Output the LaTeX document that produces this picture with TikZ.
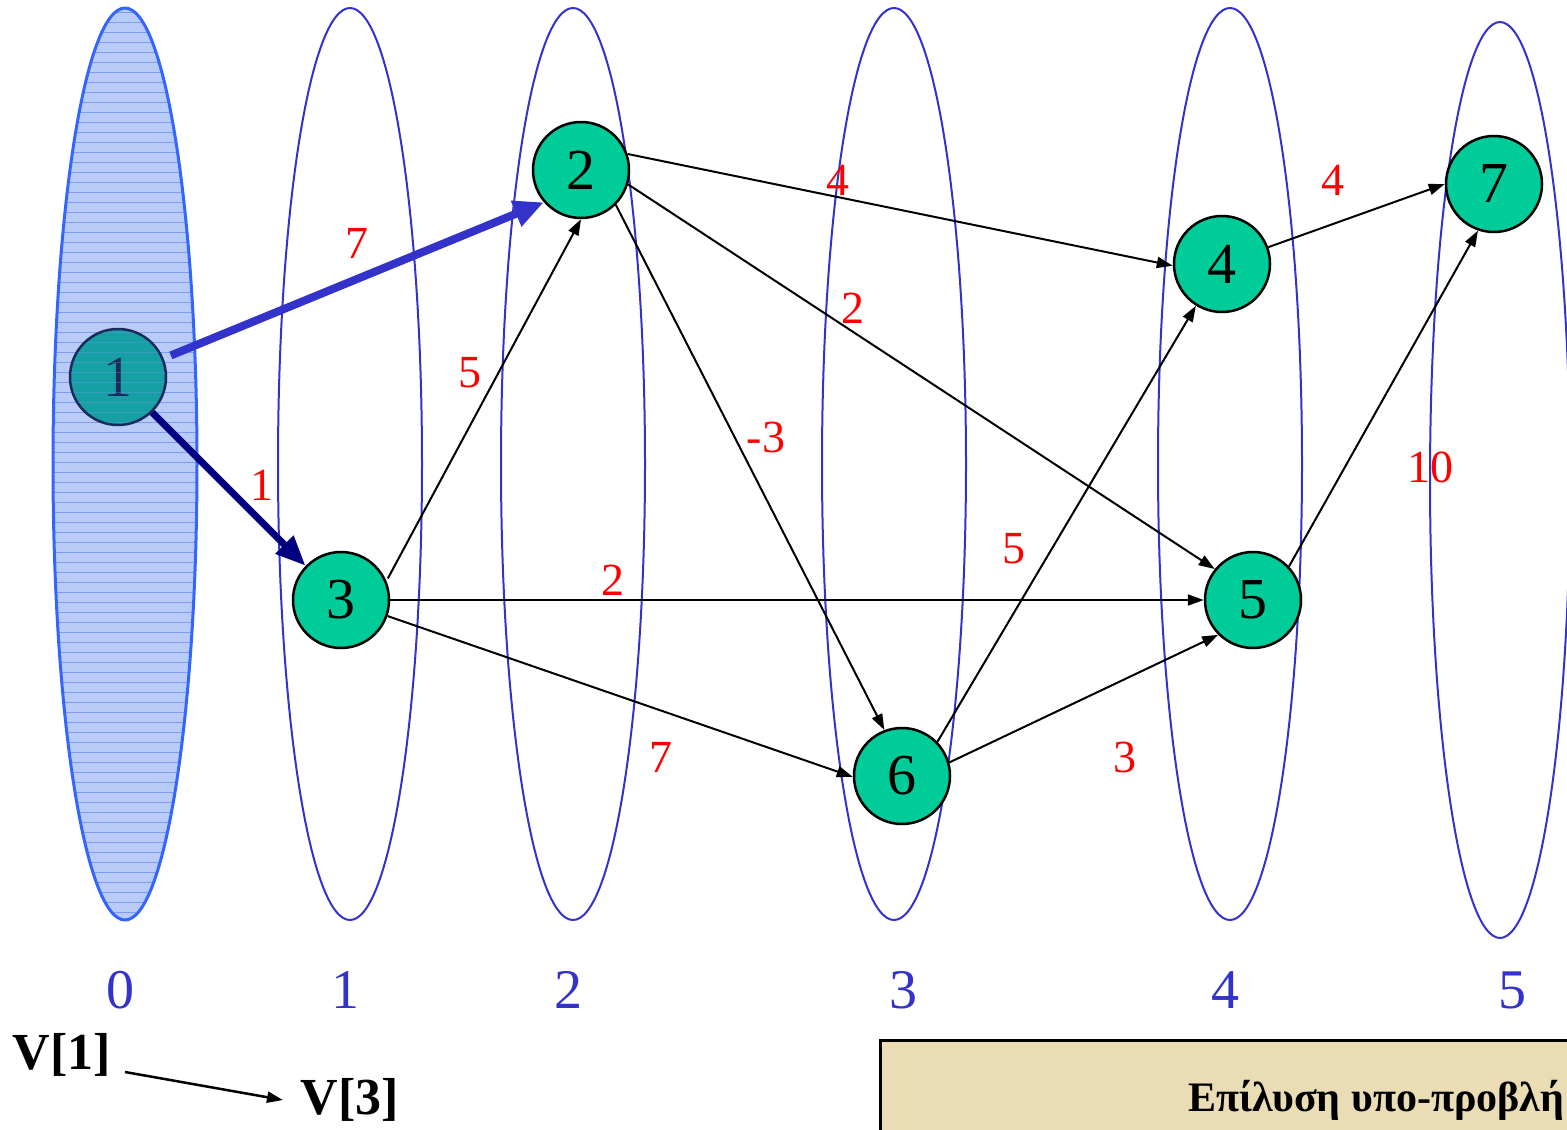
\documentclass[tikz,border=0pt]{standalone}
\usepackage{fontspec}
\setmainfont{Liberation Serif}
\usetikzlibrary{arrows.meta}
\definecolor{colblue}{HTML}{3333CC}
\definecolor{nodegreen}{HTML}{00CC99}
\definecolor{navyarrow}{HTML}{000080}
\definecolor{shadefill}{HTML}{B9CBF7}
\definecolor{shadeline}{HTML}{7F9CF2}
\definecolor{shadeborder}{HTML}{3366FF}
\definecolor{parch}{HTML}{EADCB4}
\definecolor{nodeone}{HTML}{179FA6}
\definecolor{nodeoneline}{HTML}{1A2A5A}
\begin{document}
\begin{tikzpicture}[x=1pt,y=-1pt,
 layer/.style={draw=colblue,line width=2pt},
 vert/.style={circle,draw=black,line width=2.5pt,fill=nodegreen,minimum size=96pt,inner sep=0pt,font=\fontsize{58}{58}\selectfont},
 wt/.style={text=red,font=\fontsize{46}{46}\selectfont,inner sep=0pt},
 lvl/.style={text=colblue,font=\fontsize{56}{56}\selectfont,inner sep=0pt},
 edge/.style={draw=black,line width=2pt,-{Triangle[length=16pt,width=11pt]}},
 vlab/.style={font=\bfseries\fontsize{52}{52}\selectfont,inner sep=0pt},
 ]
\useasboundingbox (0,0) rectangle (1567,1130);
\fill[white] (0,0) rectangle (1567,1130);

% shaded layer 0
\begin{scope}
\clip (125,464) ellipse [x radius=72, y radius=456];
\fill[shadefill] (40,0) rectangle (210,930);
\foreach \y in {12,22,...,922} \draw[shadeline,line width=0.9pt] (40,\y) -- (210,\y);
\end{scope}
\draw[shadeborder,line width=3pt] (125,464) ellipse [x radius=72, y radius=456];

% other layers
\draw[layer] (350,464) ellipse [x radius=72, y radius=456];
\draw[layer] (573,464) ellipse [x radius=72, y radius=456];
\draw[layer] (894,464) ellipse [x radius=72, y radius=456];
\draw[layer] (1230,464) ellipse [x radius=72, y radius=456];
\draw[layer] (1500,480) ellipse [x radius=70, y radius=458];

% vertices
\node[vert,fill=nodeone,draw=nodeoneline,text=nodeoneline] (n1) at (118,377) {1};
\begin{scope}
\clip (118,377) circle [radius=47];
\foreach \y in {332,342,...,422} \draw[shadeline,opacity=0.3,line width=0.9pt] (60,\y) -- (180,\y);
\end{scope}
\node[vert] (n2) at (581,170) {2};
\node[vert] (n3) at (341,600) {3};
\node[vert] (n4) at (1222,264) {4};
\node[vert] (n5) at (1253,600) {5};
\node[vert] (n6) at (902,776) {6};
\node[vert] (n7) at (1494,184) {7};

% thick edges
\draw[colblue,line width=8pt,-{Triangle[length=30pt,width=26pt]}] ([shift={(12pt,-6pt)}]n1.34) -- (n2.221);
\draw[navyarrow,line width=7pt,-{Triangle[length=30pt,width=24pt]}] (n1.-46) -- (n3.136);

% thin edges
\draw[edge] ([shift={(6pt,-6pt)}]n3.34) -- (n2.south);
\draw[edge] (n2.19) -- (n4.182);
\draw[edge] (n2.-17) -- (n5.141);
\draw[edge] (n2.-45) -- (n6.111);
\draw[edge] (n3.east) -- (n5.west);
\draw[edge] (n3.-19) -- (n6.181);
\draw[edge] (n6.44) -- (n4.238);
\draw[edge] (n6.16) -- (n5.225);
\draw[edge] (n4.20) -- (n7.west);
\draw[edge] (n5.43) -- (n7.251);

% weights
\node[wt] (w12) at (357,243) {7};
\node[wt] (w13) at (262,485) {1};
\node[wt] (w32) at (470,373) {5};
\node[wt] (w24) at (838,180) {4};
\node[wt] (w25) at (853,308) {2};
\node[wt] (w26) at (766,437) {-3};
\node[wt] (w35) at (613,580) {2};
\node[wt] (w36) at (661,757) {7};
\node[wt] (w64) at (1014,549) {5};
\node[wt] (w65) at (1125,757) {3};
\node[wt] (w47) at (1333,180) {4};
\node[wt] (w57) at (1430,467) {10};

% layer numbers
\node[lvl] (l0) at (120,990) {0};
\node[lvl] (l1) at (345,990) {1};
\node[lvl] (l2) at (568,990) {2};
\node[lvl] (l3) at (903,990) {3};
\node[lvl] (l4) at (1225,990) {4};
\node[lvl] (l5) at (1512,990) {5};

% V[1] -> V[3]
\node[vlab] (v1) at (62,1055) {V[1]};
\node[vlab] (v3) at (350,1100) {V[3]};
\coordinate (va) at (125,1072);
\coordinate (vb) at (283,1100);
\draw[line width=2.5pt,-{Triangle[length=16pt,width=11pt]}] (va) -- (vb);

% title box
\draw[fill=parch,line width=3pt] (880,1040) rectangle (1600,1160);
\node[anchor=base west,inner sep=0pt,font=\bfseries\fontsize{42}{42}\selectfont] (title) at (1188,1111) {Επίλυση υπο-προβλή};
\end{tikzpicture}
\end{document}
